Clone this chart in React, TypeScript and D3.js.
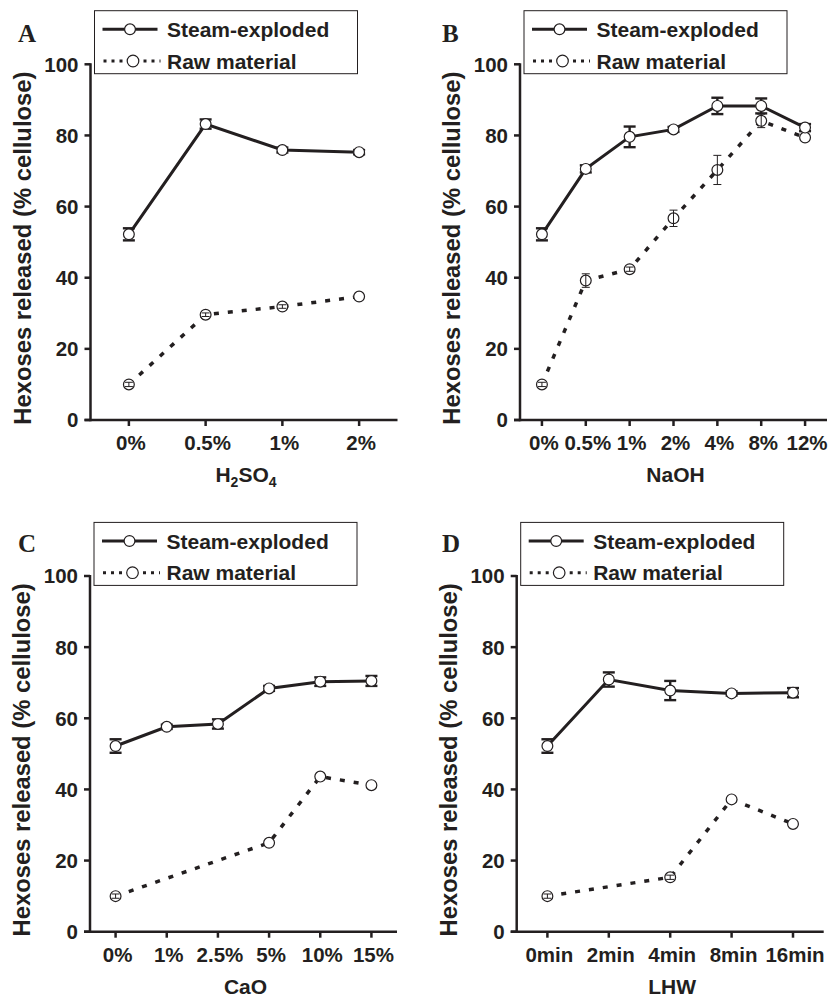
import * as d3 from 'd3'

const seriesNames = ['Steam-exploded', 'Raw material']

// A: H2SO4
const catsA = ['0%', '0.5%', '1%', '2%']
const steamA = [52.2, 83.2, 75.9, 75.3]
const steamErrA = [1.7, 1.3, 0.7, 0.6]
const rawA = [10.0, 29.6, 31.9, 34.7]
const rawErrA = [0.6, 0.5, 0.5, 0]

// B: NaOH
const catsB = ['0%', '0.5%', '1%', '2%', '4%', '8%', '12%']
const steamB = [52.2, 70.6, 79.6, 81.7, 88.3, 88.3, 82.2]
const steamErrB = [1.7, 1.0, 2.9, 0.7, 2.3, 2.1, 1.0]
const rawB = [10.0, 39.2, 42.4, 56.7, 70.3, 84.1, 79.4]
const rawErrB = [0.6, 1.9, 0.6, 2.3, 4.1, 1.9, 0]

// C: CaO
const catsC = ['0%', '1%', '2.5%', '5%', '10%', '15%']
const steamC = [52.2, 57.6, 58.4, 68.4, 70.3, 70.5]
const steamErrC = [1.9, 0.6, 1.3, 0.7, 1.2, 1.4]
const rawC = [10.0, null, null, 25.0, 43.6, 41.2]
const rawErrC = [0.6, null, null, 0, 0, 0]

// D: LHW
const catsD = ['0min', '2min', '4min', '8min', '16min']
const steamD = [52.2, 70.9, 67.8, 67.0, 67.2]
const steamErrD = [1.9, 2.0, 2.7, 0.6, 1.3]
const rawD = [10.0, null, 15.3, 37.2, 30.3]
const rawErrD = [0.6, null, 0.6, 0, 0]

const yTicks = [0, 20, 40, 60, 80, 100]
const yTitle = 'Hexoses released (% cellulose)'

const ink = '#231f20'
const sans = '"Liberation Sans", Arial, Helvetica, sans-serif'
const serif = '"Liberation Serif", "Times New Roman", serif'
const plotW = 307
const plotH = 355.7

const panels = [
  { letter: 'A', title: 'H2SO4', cats: catsA, steam: steamA, steamErr: steamErrA, raw: rawA, rawErr: rawErrA, lx: 18, ly: 42, ax: 90.5, top: 64.3 },
  { letter: 'B', title: 'NaOH', cats: catsB, steam: steamB, steamErr: steamErrB, raw: rawB, rawErr: rawErrB, lx: 442, ly: 42, ax: 520, top: 64.3 },
  { letter: 'C', title: 'CaO', cats: catsC, steam: steamC, steamErr: steamErrC, raw: rawC, rawErr: rawErrC, lx: 18, ly: 552, ax: 90, top: 576 },
  { letter: 'D', title: 'LHW', cats: catsD, steam: steamD, steamErr: steamErrD, raw: rawD, rawErr: rawErrD, lx: 442, ly: 552, ax: 516.7, top: 576 },
]

type Panel = (typeof panels)[number]

// digits in the axis title are chemical subscripts (H2SO4)
const renderTitle = (t: string) =>
  t.split(/(\d)/).filter(Boolean).map((part, i) =>
    /\d/.test(part) ? (
      <tspan key={i} fontSize="14" dy="5">{part}</tspan>
    ) : (
      <tspan key={i} dy={i > 0 ? -5 : 0}>{part}</tspan>
    )
  )

const Chart = ({ p }: { p: Panel }) => {
  const x = d3.scalePoint<string>().domain(p.cats).range([p.ax, p.ax + plotW]).padding(0.5)
  const y = d3.scaleLinear().domain([0, 100]).range([p.top + plotH, p.top])
  const y0 = y(0)

  const pts = (vals: (number | null)[], errs: (number | null)[]) =>
    p.cats
      .map((c, i) => ({ c, v: vals[i], e: errs[i] }))
      .filter(d => d.v != null) as { c: string; v: number; e: number }[]

  const steamPts = pts(p.steam, p.steamErr)
  const rawPts = pts(p.raw, p.rawErr)

  const line = d3
    .line<{ c: string; v: number }>()
    .x(d => x(d.c)!)
    .y(d => y(d.v))

  const lgX = p.ax + 4
  const lgY = p.top - 53.6

  return (
    <g>
      <text x={p.lx} y={p.ly} fontFamily={serif} fontWeight="bold" fontSize="25" fill={ink}>
        {p.letter}
      </text>

      {/* y axis */}
      <line x1={p.ax} x2={p.ax} y1={y(100) - 1} y2={y0 + 1.2} stroke={ink} strokeWidth="2.5" />
      {yTicks.map(t => (
        <g key={t}>
          <line x1={p.ax - 6} x2={p.ax} y1={y(t)} y2={y(t)} stroke={ink} strokeWidth="2.5" />
          <text
            x={p.ax - 12}
            y={y(t)}
            dy="0.36em"
            textAnchor="end"
            fontFamily={sans}
            fontWeight="bold"
            fontSize="20.5"
            fill={ink}
          >
            {t}
          </text>
        </g>
      ))}
      <text
        transform={`translate(${p.ax - 60},${p.top + plotH / 2 + 6}) rotate(-90)`}
        textAnchor="middle"
        fontFamily={sans}
        fontWeight="bold"
        fontSize="23.8"
        fill={ink}
      >
        {yTitle}
      </text>

      {/* x axis */}
      <line x1={p.ax - 6} x2={p.ax + plotW} y1={y0} y2={y0} stroke={ink} strokeWidth="2.5" />
      {p.cats.map(c => (
        <g key={c}>
          <line x1={x(c)} x2={x(c)} y1={y0} y2={y0 + 6} stroke={ink} strokeWidth="2.5" />
          <text
            x={x(c)! + 2}
            y={y0 + 30}
            textAnchor="middle"
            fontFamily={sans}
            fontWeight="bold"
            fontSize="20.5"
            fill={ink}
          >
            {c}
          </text>
        </g>
      ))}
      <text
        x={p.ax + plotW / 2 + 2}
        y={y0 + 62}
        textAnchor="middle"
        fontFamily={sans}
        fontWeight="bold"
        fontSize="21"
        fill={ink}
      >
        {renderTitle(p.title)}
      </text>

      {/* raw material */}
      <path d={line(rawPts)!} fill="none" stroke={ink} strokeWidth="3.5" strokeDasharray="5 9" />
      {/* steam-exploded */}
      <path d={line(steamPts)!} fill="none" stroke={ink} strokeWidth="3" />
      {steamPts.map(d => {
        const cx = x(d.c)!
        return (
          <g key={d.c} stroke={ink} strokeWidth="2.4">
            <line x1={cx} x2={cx} y1={y(d.v - d.e)} y2={y(d.v + d.e)} />
            <line x1={cx - 6} x2={cx + 6} y1={y(d.v - d.e)} y2={y(d.v - d.e)} />
            <line x1={cx - 6} x2={cx + 6} y1={y(d.v + d.e)} y2={y(d.v + d.e)} />
          </g>
        )
      })}
      {[...rawPts, ...steamPts].map((d, i) => (
        <circle key={i} cx={x(d.c)} cy={y(d.v)} r="5.4" fill="white" stroke={ink} strokeWidth="1.2" />
      ))}
      {rawPts
        .filter(d => d.e > 0)
        .map(d => {
          const cx = x(d.c)!
          return (
            <g key={d.c} stroke={ink} strokeWidth="1">
              <line x1={cx} x2={cx} y1={y(d.v - d.e)} y2={y(d.v + d.e)} />
              <line x1={cx - 4} x2={cx + 4} y1={y(d.v - d.e)} y2={y(d.v - d.e)} />
              <line x1={cx - 4} x2={cx + 4} y1={y(d.v + d.e)} y2={y(d.v + d.e)} />
            </g>
          )
        })}

      {/* legend */}
      <rect x={lgX} y={lgY} width={263} height={63} fill="white" stroke={ink} strokeWidth="1" />
      <line x1={lgX + 8} x2={lgX + 63} y1={lgY + 18.6} y2={lgY + 18.6} stroke={ink} strokeWidth="3" />
      <circle cx={lgX + 35.5} cy={lgY + 18.6} r="5.4" fill="white" stroke={ink} strokeWidth="1.2" />
      <line
        x1={lgX + 9}
        x2={lgX + 66}
        y1={lgY + 50.3}
        y2={lgY + 50.3}
        stroke={ink}
        strokeWidth="3"
        strokeDasharray="3 5"
      />
      <circle cx={lgX + 38.5} cy={lgY + 50.3} r="5.8" fill="white" stroke={ink} strokeWidth="1.2" />
      {seriesNames.map((n, i) => (
        <text
          key={n}
          x={lgX + 72.5}
          y={lgY + 18.6 + i * 31.7 + 7.5}
          fontFamily={sans}
          fontWeight="bold"
          fontSize="21"
          fill={ink}
        >
          {n}
        </text>
      ))}
    </g>
  )
}

export default function App() {
  return (
    <div style={{ position: 'absolute', left: 0, top: 0 }}>
      <svg width={833} height={997} viewBox="0 0 833 997" style={{ display: 'block', background: 'white' }}>
        {panels.map(p => (
          <Chart key={p.letter} p={p} />
        ))}
      </svg>
    </div>
  )
}
